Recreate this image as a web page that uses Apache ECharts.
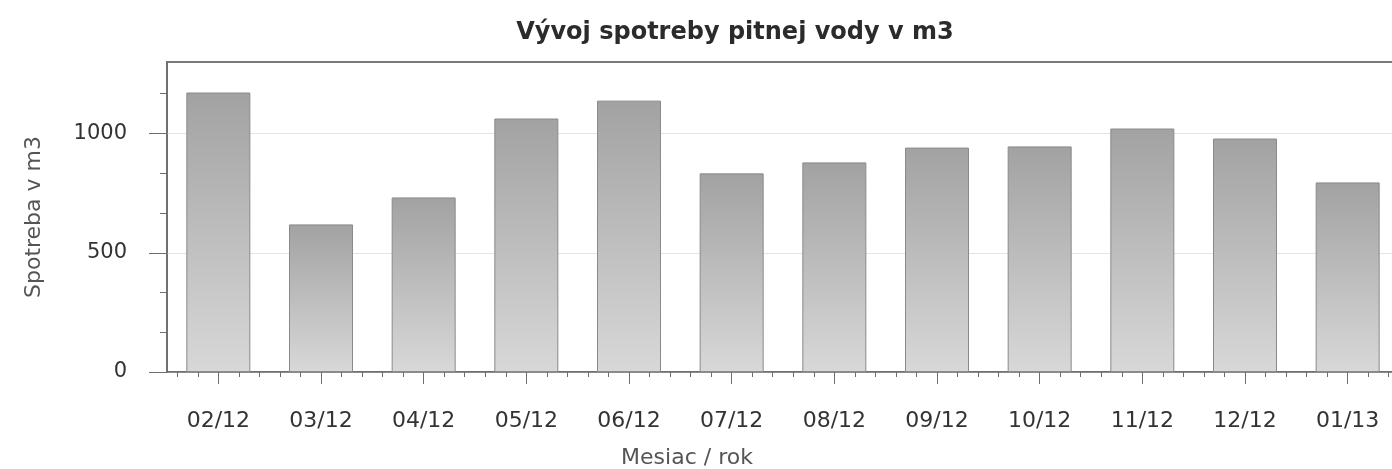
<!DOCTYPE html>
<html>
<head>
<meta charset="utf-8">
<title>Vývoj spotreby pitnej vody v m3</title>
<script src="https://cdn.jsdelivr.net/npm/echarts@6/dist/echarts.min.js"></script>
<style>
  html, body { margin: 0; padding: 0; background: #fff; }
  #chart { width: 1392px; height: 469px; }
</style>
</head>
<body>
<div id="chart"></div>
<script>
// mesiace / rok
const categories = ['02/12', '03/12', '04/12', '05/12', '06/12', '07/12', '08/12', '09/12', '10/12', '11/12', '12/12', '01/13'];
// spotreba v m3
const consumption = [1172, 619, 732, 1063, 1138, 833, 879, 941, 946, 1021, 979, 795];
// popisky a znacky osi y
const yTicks = [0, 500, 1000];
const yMinorTicks = [167, 333, 667, 833, 1167];
const yMax = 1300;
// jemne znacky na osi x (5 na mesiac)
const xMinorSlots = categories.flatMap(c => ['', '', '', '', '']);

const font = 'DejaVu Sans';
const axisColor = '#6e6e6e';

const chartInstance = echarts.init(document.getElementById('chart'));

const initOption = {
  animation: false,
  title: {
    text: 'Vývoj spotreby pitnej vody v m3',
    left: 730,
    textAlign: 'center',
    top: 16,
    textStyle: {
      fontFamily: font,
      fontSize: 24,
      fontWeight: 'bold',
      color: '#2b2b2b'
    }
  },
  grid: {
    left: 167,
    right: -7,
    top: 62,
    bottom: 97,
    outerBoundsMode: 'none',
    containLabel: false,
    show: true,
    borderColor: '#7a7a7a',
    borderWidth: 2
  },
  xAxis: [
    {
      type: 'category',
      data: categories,
      name: 'Mesiac / rok',
      nameLocation: 'middle',
      nameGap: 75,
      nameTextStyle: {
        fontFamily: font,
        fontSize: 22,
        color: '#555',
        padding: [0, 192, 0, 0]
      },
      axisLine: { lineStyle: { color: axisColor, width: 1.5 } },
      axisTick: { show: true, alignWithLabel: true, interval: 0, length: 12, lineStyle: { color: axisColor } },
      axisLabel: {
        interval: 0,
        margin: 38,
        fontFamily: font,
        fontSize: 22,
        color: '#333'
      }
    },
    {
      // len jemne znacky
      type: 'category',
      position: 'bottom',
      data: xMinorSlots,
      axisLine: { show: false },
      axisTick: { show: true, alignWithLabel: true, interval: 0, length: 5, lineStyle: { color: axisColor } },
      axisLabel: { show: false },
      splitLine: { show: false }
    }
  ],
  yAxis: [
    {
      type: 'value',
      min: 0,
      max: yMax,
      name: 'Spotreba v m3',
      nameLocation: 'middle',
      nameGap: 122,
      nameTextStyle: {
        fontFamily: font,
        fontSize: 22,
        color: '#555'
      },
      axisLine: { show: true, lineStyle: { color: axisColor, width: 1.5 } },
      axisTick: { show: true, length: 18, customValues: yTicks, lineStyle: { color: axisColor } },
      axisLabel: {
        customValues: yTicks,
        margin: 40,
        fontFamily: font,
        fontSize: 21,
        color: '#333',
        formatter: function (value) {
          return String(value)
        }
      },
      splitLine: { lineStyle: { color: '#e4e4e4' } }
    },
    {
      type: 'value',
      position: 'left',
      min: 0,
      max: yMax,
      axisLine: { show: false },
      axisTick: { show: true, length: 7, customValues: yMinorTicks, lineStyle: { color: axisColor } },
      axisLabel: { show: false },
      splitLine: { show: false }
    }
  ],
  series: [
    {
      name: 'Spotreba',
      type: 'bar',
      xAxisIndex: 0,
      yAxisIndex: 0,
      data: consumption,
      barWidth: 64,
      itemStyle: {
        color: new echarts.graphic.LinearGradient(0, 0, 0, 1, [
          { offset: 0, color: '#a2a2a2' },
          { offset: 1, color: '#d8d8d8' }
        ]),
        borderColor: '#8a8a8a',
        borderWidth: 1
      }
    }
  ]
};

chartInstance.setOption(initOption);
</script>
</body>
</html>
